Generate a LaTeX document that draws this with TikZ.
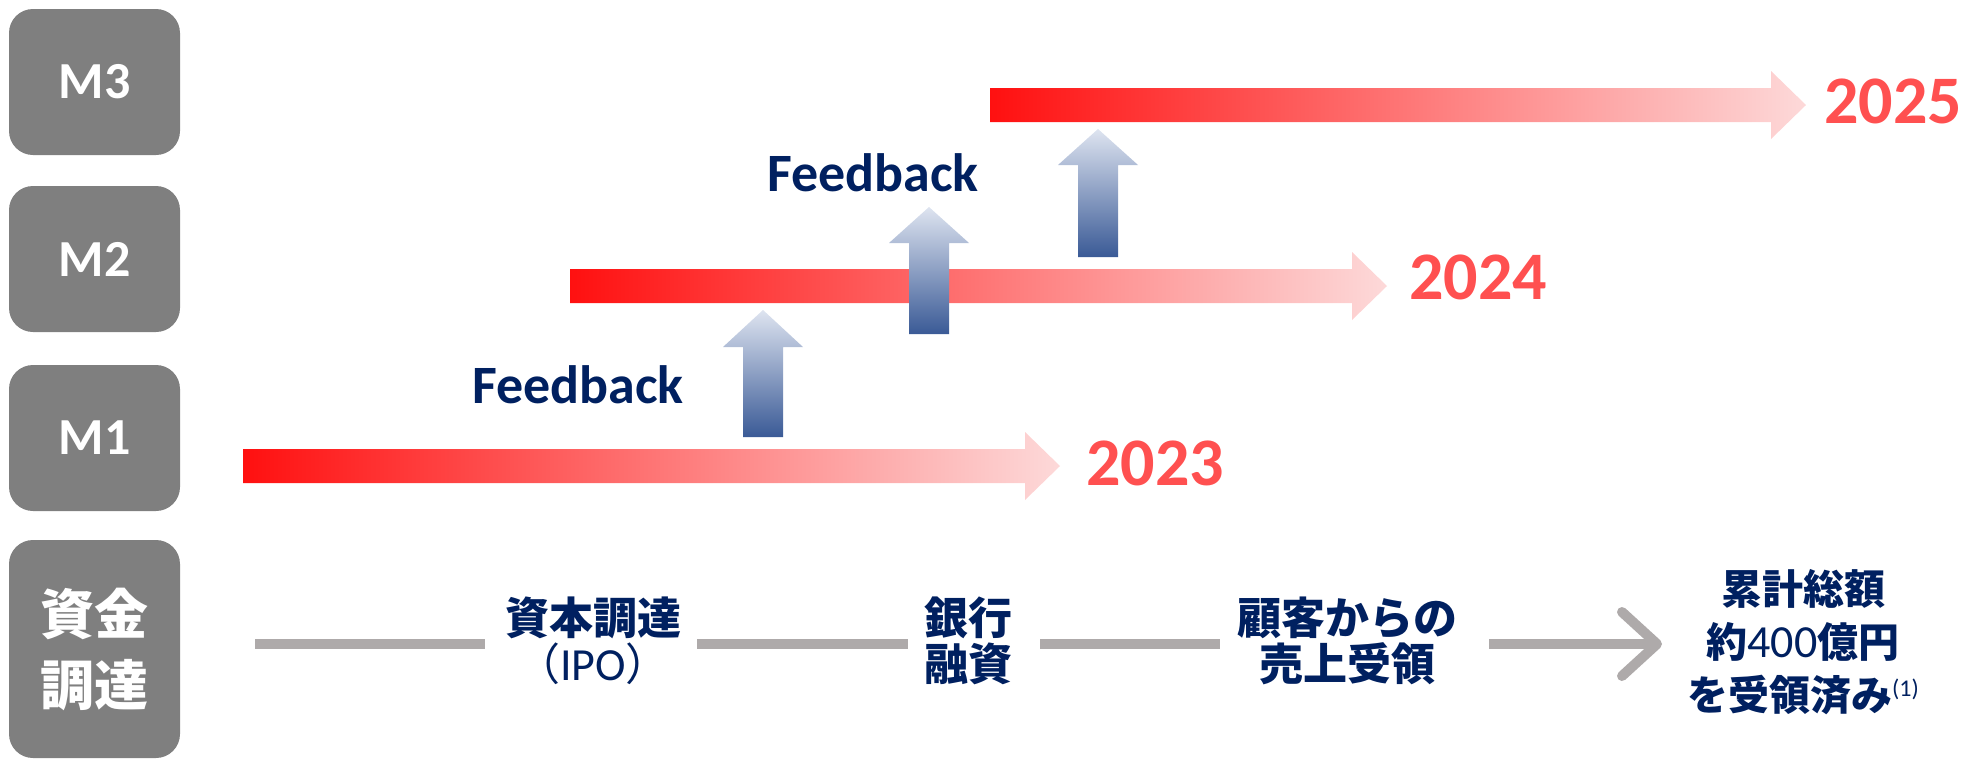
\documentclass[tikz,border=0pt]{standalone}
\usepackage{fontspec}
\setmainfont{Carlito}
\newfontfamily\jp{Noto Sans CJK JP}
\definecolor{boxgray}{RGB}{127,127,127}
\definecolor{navy}{RGB}{0,32,96}
\definecolor{yr}{RGB}{255,80,80}
\definecolor{lgray}{RGB}{174,170,170}
\definecolor{rstart}{RGB}{255,16,16}
\definecolor{rend}{RGB}{253,217,217}
\definecolor{btop}{RGB}{222,228,240}
\definecolor{bbot}{RGB}{58,90,150}
\begin{document}
\begin{tikzpicture}[x=0.5pt,y=-0.5pt,
  lbox/.style={fill=boxgray, rounded corners=12pt, text=white, inner sep=0pt,
    minimum width=85.5pt, minimum height=73pt, align=center,
    font=\bfseries\fontsize{26}{30}\selectfont},
  redarr/.style={left color=rstart, right color=rend},
  bluearr/.style={top color=btop, bottom color=bbot},
  yeartxt/.style={text=yr, font=\bfseries\fontsize{34}{40}\selectfont, inner sep=0pt},
  fbtxt/.style={text=navy, font=\bfseries\fontsize{27}{32}\selectfont, inner sep=0pt},
  bottxt/.style={text=navy, align=center, inner sep=0pt, font=\jp\bfseries\fontsize{22}{23}\selectfont},
  grayline/.style={draw=lgray, line width=5pt}
]
\useasboundingbox (0,0) rectangle (1977,761);

% row labels
\node[lbox] (m3) at (94.5,82) {M3};
\node[lbox] (m2) at (94.5,259) {M2};
\node[lbox] (m1) at (94.5,438) {M1};
\node[lbox, minimum height=109pt, font=\jp\bfseries\fontsize{27}{35.5}\selectfont] (fund) at (94.5,649) {資金\\調達};

% red timeline arrows
\shade[redarr] (243,449) -- (1025,449) -- (1025,432) -- (1060,466) -- (1025,500) -- (1025,483) -- (243,483) -- cycle;
\shade[redarr] (570,269) -- (1352,269) -- (1352,252) -- (1387,286) -- (1352,320) -- (1352,303) -- (570,303) -- cycle;
\shade[redarr] (990,88) -- (1771,88) -- (1771,71) -- (1806,105) -- (1771,139) -- (1771,122) -- (990,122) -- cycle;

% years
\node[yeartxt] (y23) at (1155,463) {2023};
\node[yeartxt] (y24) at (1478,277) {2024};
\node[yeartxt] (y25) at (1893,101) {2025};

% feedback arrows
\shade[bluearr] (743,437) -- (743,347) -- (723,347) -- (763,310) -- (803,347) -- (783,347) -- (783,437) -- cycle;
\shade[bluearr] (909,334) -- (909,243) -- (889,243) -- (929,207) -- (969,243) -- (949,243) -- (949,334) -- cycle;
\shade[bluearr] (1078,257) -- (1078,165) -- (1058,165) -- (1098,129) -- (1138,165) -- (1118,165) -- (1118,257) -- cycle;

\node[fbtxt] (fb1) at (578,385) {Feedback};
\node[fbtxt] (fb2) at (873,173) {Feedback};

% funding row
\node[bottxt] (t1) at (593,641) {資本調達\\{\mdseries（}{\mdseries\rmfamily\fontsize{23}{23}\selectfont IPO}{\mdseries）}};
\node[bottxt] (t2) at (968,641) {銀行\\融資};
\node[bottxt] (t3) at (1347,641) {顧客からの\\売上受領};
\node[bottxt, font=\jp\bfseries\fontsize{20.5}{26.5}\selectfont] (t4) at (1803,642)
  {累計総額\\約{\mdseries\rmfamily\fontsize{23}{26.5}\selectfont 400}億円\\を受領済み{\mdseries\rmfamily\fontsize{12}{14}\selectfont\raisebox{7pt}{(1)}}};

\coordinate (l0) at (255,644);
\coordinate (l1) at (485,644);
\coordinate (l2) at (697,644);
\coordinate (l3) at (908,644);
\coordinate (l4) at (1040,644);
\coordinate (l5) at (1220,644);
\coordinate (l6) at (1489,644);
\coordinate (l7) at (1654,644);
\coordinate (tipc) at (1657,644);
\coordinate (arma) at (1622,612);
\coordinate (armb) at (1622,676);
\draw[grayline] (l0) -- (l1);
\draw[grayline] (l2) -- (l3);
\draw[grayline] (l4) -- (l5);
\draw[grayline] (l6) -- (l7);
\draw[grayline, line cap=round, line join=round] (arma) -- (tipc) -- (armb);
\end{tikzpicture}
\end{document}
